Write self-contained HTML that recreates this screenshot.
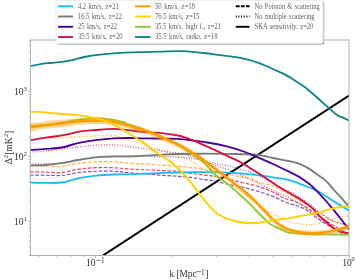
<!DOCTYPE html>
<html><head><meta charset="utf-8"><style>html,body{margin:0;padding:0;background:#fff;width:355px;height:280px;overflow:hidden}svg{display:block;will-change:transform;font-family:"Liberation Serif",serif}</style></head>
<body><svg width="355" height="280" viewBox="0 0 355 280"><rect width="355" height="280" fill="#fff"/><defs><clipPath id="ax"><rect x="30.4" y="40" width="318.6" height="215.5"/></clipPath></defs><g clip-path="url(#ax)"><line x1="103.1" y1="255.4" x2="349" y2="95.6" stroke="#000" stroke-width="1.9"/><path d="M30.00,165.90 C32.65,165.96 40.58,166.17 45.90,166.25 C51.22,166.33 56.55,166.91 61.90,166.40 C67.25,165.89 72.33,163.97 78.00,163.20 C83.67,162.43 89.95,162.03 95.90,161.80 C101.85,161.57 108.35,161.57 113.70,161.80 C119.05,162.03 122.63,162.82 128.00,163.20 C133.37,163.58 139.73,163.75 145.90,164.10 C152.07,164.45 159.65,164.95 165.00,165.30 C170.35,165.65 174.05,165.87 178.00,166.20 C181.95,166.53 185.13,166.93 188.70,167.30 C192.27,167.67 195.02,167.70 199.40,168.40 C203.78,169.10 209.33,170.32 215.00,171.50 C220.67,172.68 227.67,174.37 233.40,175.50 C239.13,176.63 245.13,177.22 249.40,178.30 C253.67,179.38 255.07,180.68 259.00,182.00 C262.93,183.32 268.67,184.58 273.00,186.25 C277.33,187.92 281.33,190.12 285.00,192.00 C288.67,193.88 290.83,195.08 295.00,197.50 C299.17,199.92 305.83,203.92 310.00,206.50 C314.17,209.08 316.00,210.52 320.00,213.00 C324.00,215.48 329.17,219.23 334.00,221.40 C338.83,223.57 346.50,225.23 349.00,226.00" fill="none" stroke="#ff9d00" stroke-width="1.2" stroke-linejoin="round" stroke-linecap="butt" stroke-dasharray="3.7,1.6" stroke-opacity="0.75"/><path d="M30.00,171.80 C32.65,171.85 40.58,171.95 45.90,172.10 C51.22,172.25 56.55,173.17 61.90,172.70 C67.25,172.23 72.33,170.13 78.00,169.30 C83.67,168.47 89.95,167.97 95.90,167.70 C101.85,167.43 108.35,167.50 113.70,167.70 C119.05,167.90 122.63,168.55 128.00,168.90 C133.37,169.25 139.95,169.50 145.90,169.80 C151.85,170.10 158.35,170.46 163.70,170.70 C169.05,170.94 173.62,170.83 178.00,171.25 C182.38,171.67 186.17,172.62 190.00,173.20 C193.83,173.77 197.18,174.22 201.00,174.70 C204.82,175.18 208.90,175.52 212.90,176.10 C216.90,176.68 220.48,177.20 225.00,178.20 C229.52,179.20 235.50,181.02 240.00,182.10 C244.50,183.18 248.15,183.70 252.00,184.70 C255.85,185.70 259.27,186.72 263.10,188.10 C266.93,189.48 271.52,191.32 275.00,193.00 C278.48,194.68 280.72,196.80 284.00,198.20 C287.28,199.60 291.13,199.97 294.70,201.40 C298.27,202.83 302.02,204.78 305.40,206.80 C308.78,208.82 311.23,210.97 315.00,213.50 C318.77,216.03 323.83,219.33 328.00,222.00 C332.17,224.67 336.50,227.17 340.00,229.50 C343.50,231.83 347.50,234.92 349.00,236.00" fill="none" stroke="#d4103c" stroke-width="1.2" stroke-linejoin="round" stroke-linecap="butt" stroke-dasharray="3.7,1.6" stroke-opacity="0.75"/><path d="M30.00,175.00 C32.65,175.03 40.58,175.13 45.90,175.20 C51.22,175.27 56.55,175.82 61.90,175.40 C67.25,174.98 72.33,173.39 78.00,172.70 C83.67,172.01 89.95,171.49 95.90,171.25 C101.85,171.01 108.35,171.01 113.70,171.25 C119.05,171.49 122.63,172.24 128.00,172.70 C133.37,173.16 139.95,173.55 145.90,174.00 C151.85,174.45 158.35,175.02 163.70,175.40 C169.05,175.78 173.28,175.93 178.00,176.30 C182.72,176.67 188.00,177.10 192.00,177.60 C196.00,178.10 198.52,178.78 202.00,179.30 C205.48,179.82 208.57,179.87 212.90,180.70 C217.23,181.53 223.48,183.32 228.00,184.30 C232.52,185.28 236.00,185.72 240.00,186.60 C244.00,187.48 248.15,188.53 252.00,189.60 C255.85,190.67 259.27,191.73 263.10,193.00 C266.93,194.27 271.17,195.62 275.00,197.20 C278.83,198.78 282.45,201.08 286.10,202.50 C289.75,203.92 293.68,204.53 296.90,205.70 C300.12,206.87 302.07,207.45 305.40,209.50 C308.73,211.55 313.13,215.42 316.90,218.00 C320.67,220.58 324.15,222.92 328.00,225.00 C331.85,227.08 336.50,229.17 340.00,230.50 C343.50,231.83 347.50,232.58 349.00,233.00" fill="none" stroke="#4b0096" stroke-width="1.2" stroke-linejoin="round" stroke-linecap="butt" stroke-dasharray="3.7,1.6" stroke-opacity="0.68"/><path d="M50.00,138.40 C54.67,138.10 70.35,137.00 78.00,136.60 C85.65,136.20 89.95,136.15 95.90,136.00 C101.85,135.85 109.68,135.53 113.70,135.70 C117.72,135.87 117.62,136.25 120.00,137.00 C122.38,137.75 125.17,139.33 128.00,140.20 C130.83,141.07 134.02,141.33 137.00,142.20 C139.98,143.07 142.90,144.35 145.90,145.40 C148.90,146.45 151.82,147.40 155.00,148.50 C158.18,149.60 161.17,150.75 165.00,152.00 C168.83,153.25 174.23,154.78 178.00,156.00 C181.77,157.22 185.28,158.40 187.60,159.30 C189.92,160.20 190.47,160.60 191.90,161.40 C193.33,162.20 194.68,163.00 196.20,164.10 C197.72,165.20 199.30,166.98 201.00,168.00 C202.70,169.02 203.23,168.37 206.40,170.20 C209.57,172.03 215.33,176.05 220.00,179.00 C224.67,181.95 230.92,185.80 234.40,187.90 C237.88,190.00 236.43,188.52 240.90,191.60 C245.37,194.68 256.57,203.03 261.20,206.40 C265.83,209.77 265.67,210.02 268.70,211.80 C271.73,213.58 276.18,215.47 279.40,217.10 C282.62,218.73 284.07,220.40 288.00,221.60 C291.93,222.80 298.35,223.85 303.00,224.30 C307.65,224.75 311.40,225.10 315.90,224.30 C320.40,223.50 325.48,220.80 330.00,219.50 C334.52,218.20 339.83,217.08 343.00,216.50 C346.17,215.92 348.00,216.08 349.00,216.00" fill="none" stroke="#ff9d00" stroke-width="1.3" stroke-linejoin="round" stroke-linecap="butt" stroke-dasharray="1,1.65" stroke-opacity="0.8"/><path d="M30.00,152.10 C32.65,151.92 37.90,151.85 45.90,151.00 C53.90,150.15 69.67,147.97 78.00,147.00 C86.33,146.03 89.95,145.57 95.90,145.20 C101.85,144.83 108.35,144.58 113.70,144.80 C119.05,145.02 122.63,145.82 128.00,146.50 C133.37,147.18 139.95,148.15 145.90,148.90 C151.85,149.65 158.35,150.23 163.70,151.00 C169.05,151.77 173.83,152.75 178.00,153.50 C182.17,154.25 185.03,154.50 188.70,155.50 C192.37,156.50 195.80,157.93 200.00,159.50 C204.20,161.07 209.08,163.18 213.90,164.90 C218.72,166.62 223.98,167.93 228.90,169.80 C233.82,171.67 239.27,174.25 243.40,176.10 C247.53,177.95 250.83,179.53 253.70,180.90 C256.57,182.27 257.22,182.60 260.60,184.30 C263.98,186.00 269.62,189.08 274.00,191.10 C278.38,193.12 282.57,194.25 286.90,196.40 C291.23,198.55 295.32,200.90 300.00,204.00 C304.68,207.10 310.00,211.17 315.00,215.00 C320.00,218.83 324.73,223.50 330.00,227.00 C335.27,230.50 343.83,234.50 346.60,236.00" fill="none" stroke="#d4103c" stroke-width="1.3" stroke-linejoin="round" stroke-linecap="butt" stroke-dasharray="1,1.65" stroke-opacity="0.7"/><path d="M30.00,163.90 C32.50,163.88 40.00,163.95 45.00,163.80 C50.00,163.65 54.50,163.67 60.00,163.00 C65.50,162.33 72.02,160.70 78.00,159.80 C83.98,158.90 89.95,158.08 95.90,157.60 C101.85,157.12 108.35,157.03 113.70,156.90 C119.05,156.77 122.63,156.83 128.00,156.80 C133.37,156.77 137.57,156.67 145.90,156.70 C154.23,156.73 170.87,156.75 178.00,157.00 C185.13,157.25 185.48,157.82 188.70,158.20 C191.92,158.58 193.98,158.63 197.30,159.30 C200.62,159.97 204.93,161.37 208.60,162.20 C212.27,163.03 215.92,163.68 219.30,164.30 C222.68,164.92 225.30,165.07 228.90,165.90 C232.50,166.73 237.05,168.17 240.90,169.30 C244.75,170.43 248.15,171.17 252.00,172.70 C255.85,174.23 259.97,176.42 264.00,178.50 C268.03,180.58 272.20,183.12 276.20,185.20 C280.20,187.28 284.25,189.12 288.00,191.00 C291.75,192.88 295.13,194.37 298.70,196.50 C302.27,198.63 305.80,201.05 309.40,203.80 C313.00,206.55 316.87,210.38 320.30,213.00 C323.73,215.62 326.72,217.83 330.00,219.50 C333.28,221.17 336.83,222.08 340.00,223.00 C343.17,223.92 347.50,224.67 349.00,225.00" fill="none" stroke="#4b0096" stroke-width="1.3" stroke-linejoin="round" stroke-linecap="butt" stroke-dasharray="1,1.65" stroke-opacity="0.6"/><path d="M30.00,182.50 C32.65,182.57 40.58,182.90 45.90,182.90 C51.22,182.90 56.55,183.25 61.90,182.50 C67.25,181.75 72.33,179.53 78.00,178.40 C83.67,177.27 89.95,176.35 95.90,175.70 C101.85,175.05 108.35,174.73 113.70,174.50 C119.05,174.27 122.63,174.45 128.00,174.30 C133.37,174.15 139.73,173.83 145.90,173.60 C152.07,173.37 158.48,173.10 165.00,172.90 C171.52,172.70 178.33,172.53 185.00,172.40 C191.67,172.27 197.83,172.05 205.00,172.10 C212.17,172.15 221.67,172.45 228.00,172.70 C234.33,172.95 238.00,173.18 243.00,173.60 C248.00,174.02 253.00,174.58 258.00,175.20 C263.00,175.82 268.00,176.53 273.00,177.30 C278.00,178.07 283.72,178.80 288.00,179.80 C292.28,180.80 295.13,182.02 298.70,183.30 C302.27,184.58 306.18,186.17 309.40,187.50 C312.62,188.83 314.07,189.08 318.00,191.30 C321.93,193.52 327.83,197.57 333.00,200.80 C338.17,204.03 346.33,209.05 349.00,210.70" fill="none" stroke="#1bbcf5" stroke-width="1.85" stroke-linejoin="round" stroke-linecap="butt" /><path d="M30.00,165.50 C32.65,165.42 40.58,165.38 45.90,165.00 C51.22,164.62 56.55,164.03 61.90,163.20 C67.25,162.37 72.33,160.98 78.00,160.00 C83.67,159.02 89.95,157.90 95.90,157.30 C101.85,156.70 108.35,156.55 113.70,156.40 C119.05,156.25 122.63,156.52 128.00,156.40 C133.37,156.28 139.95,156.00 145.90,155.70 C151.85,155.40 158.35,154.88 163.70,154.60 C169.05,154.32 171.95,154.15 178.00,154.00 C184.05,153.85 191.67,153.72 200.00,153.70 C208.33,153.68 218.33,153.72 228.00,153.90 C237.67,154.08 250.50,154.12 258.00,154.80 C265.50,155.48 268.00,157.00 273.00,158.00 C278.00,159.00 283.72,159.87 288.00,160.80 C292.28,161.73 295.13,162.25 298.70,163.60 C302.27,164.95 306.18,167.00 309.40,168.90 C312.62,170.80 315.23,173.00 318.00,175.00 C320.77,177.00 323.33,178.40 326.00,180.90 C328.67,183.40 331.52,187.25 334.00,190.00 C336.48,192.75 338.40,194.57 340.90,197.40 C343.40,200.23 347.65,205.40 349.00,207.00" fill="none" stroke="#7a7a7a" stroke-width="1.85" stroke-linejoin="round" stroke-linecap="butt" /><path d="M30.00,150.00 C32.65,149.82 40.58,149.32 45.90,148.90 C51.22,148.48 56.55,148.47 61.90,147.50 C67.25,146.53 72.33,144.32 78.00,143.10 C83.67,141.88 89.95,140.98 95.90,140.20 C101.85,139.42 108.35,138.77 113.70,138.40 C119.05,138.03 122.63,138.00 128.00,138.00 C133.37,138.00 137.57,138.25 145.90,138.40 C154.23,138.55 169.82,138.50 178.00,138.90 C186.18,139.30 190.50,140.27 195.00,140.80 C199.50,141.33 200.00,141.25 205.00,142.10 C210.00,142.95 218.33,144.25 225.00,145.90 C231.67,147.55 239.50,150.08 245.00,152.00 C250.50,153.92 253.33,155.40 258.00,157.40 C262.67,159.40 268.00,161.70 273.00,164.00 C278.00,166.30 283.72,169.10 288.00,171.20 C292.28,173.30 295.13,174.47 298.70,176.60 C302.27,178.73 306.37,181.57 309.40,184.00 C312.43,186.43 314.13,188.37 316.90,191.20 C319.67,194.03 323.53,198.27 326.00,201.00 C328.47,203.73 329.22,204.60 331.70,207.60 C334.18,210.60 338.02,215.35 340.90,219.00 C343.78,222.65 347.65,227.75 349.00,229.50" fill="none" stroke="#4b0096" stroke-width="1.85" stroke-linejoin="round" stroke-linecap="butt" /><path d="M30.00,140.20 C32.65,139.78 40.28,138.53 45.90,137.70 C51.52,136.87 58.35,136.18 63.70,135.20 C69.05,134.22 72.63,132.67 78.00,131.80 C83.37,130.93 89.95,130.48 95.90,130.00 C101.85,129.52 108.35,128.87 113.70,128.90 C119.05,128.93 122.63,129.67 128.00,130.20 C133.37,130.73 139.95,131.58 145.90,132.10 C151.85,132.62 158.35,132.73 163.70,133.30 C169.05,133.87 174.12,134.68 178.00,135.50 C181.88,136.32 184.17,137.25 187.00,138.20 C189.83,139.15 192.00,139.97 195.00,141.20 C198.00,142.43 200.95,143.78 205.00,145.60 C209.05,147.42 215.47,150.30 219.30,152.10 C223.13,153.90 224.77,154.88 228.00,156.40 C231.23,157.93 235.13,159.37 238.70,161.25 C242.27,163.13 246.18,165.74 249.40,167.70 C252.62,169.66 254.78,170.95 258.00,173.00 C261.22,175.05 265.13,177.62 268.70,180.00 C272.27,182.38 276.18,185.25 279.40,187.30 C282.62,189.35 284.78,190.45 288.00,192.30 C291.22,194.15 295.13,196.15 298.70,198.40 C302.27,200.65 306.90,203.95 309.40,205.80 C311.90,207.65 312.12,207.92 313.70,209.50 C315.28,211.08 316.60,213.05 318.90,215.30 C321.20,217.55 324.80,220.67 327.50,223.00 C330.20,225.33 332.78,227.80 335.10,229.30 C337.42,230.80 339.08,231.30 341.40,232.00 C343.72,232.70 347.73,233.25 349.00,233.50" fill="none" stroke="#d4103c" stroke-width="1.85" stroke-linejoin="round" stroke-linecap="butt" /><path d="M30.00,125.90 C31.55,125.80 35.88,125.60 39.30,125.30 C42.72,125.00 45.72,124.72 50.50,124.10 C55.28,123.48 63.42,122.32 68.00,121.60 C72.58,120.88 73.35,120.37 78.00,119.80 C82.65,119.23 91.23,118.33 95.90,118.20 C100.57,118.07 103.03,118.70 106.00,119.00 C108.97,119.30 110.70,119.42 113.70,120.00 C116.70,120.58 121.62,121.83 124.00,122.50 C126.38,123.17 124.35,122.68 128.00,124.00 C131.65,125.32 139.95,128.15 145.90,130.40 C151.85,132.65 158.35,135.07 163.70,137.50 C169.05,139.93 174.13,142.83 178.00,145.00 C181.87,147.17 184.23,148.75 186.90,150.50 C189.57,152.25 191.82,154.00 194.00,155.50 C196.18,157.00 198.17,158.15 200.00,159.50 C201.83,160.85 203.22,161.90 205.00,163.60 C206.78,165.30 208.50,167.43 210.70,169.70 C212.90,171.97 215.32,174.80 218.20,177.20 C221.08,179.60 224.58,181.34 228.00,184.10 C231.42,186.86 235.13,190.53 238.70,193.75 C242.27,196.97 246.37,200.44 249.40,203.40 C252.43,206.36 254.40,208.94 256.90,211.50 C259.40,214.06 262.07,216.57 264.40,218.75 C266.73,220.93 268.40,222.96 270.90,224.60 C273.40,226.24 276.55,227.32 279.40,228.60 C282.25,229.88 283.53,231.38 288.00,232.30 C292.47,233.22 301.20,233.75 306.20,234.10 C311.20,234.45 310.87,234.32 318.00,234.40 C325.13,234.48 343.83,234.57 349.00,234.60" fill="none" stroke="#8fc832" stroke-width="1.85" stroke-linejoin="round" stroke-linecap="butt" /><path d="M30.00,127.20 C31.55,127.00 35.88,126.38 39.30,126.00 C42.72,125.62 45.72,125.47 50.50,124.90 C55.28,124.33 63.42,123.18 68.00,122.60 C72.58,122.02 73.35,121.75 78.00,121.40 C82.65,121.05 89.95,120.43 95.90,120.50 C101.85,120.57 109.68,121.30 113.70,121.80 C117.72,122.30 117.62,122.88 120.00,123.50 C122.38,124.12 125.18,124.67 128.00,125.50 C130.82,126.33 133.23,127.38 136.90,128.50 C140.57,129.62 145.53,130.55 150.00,132.20 C154.47,133.85 159.03,136.35 163.70,138.40 C168.37,140.45 174.55,142.90 178.00,144.50 C181.45,146.10 181.72,146.43 184.40,148.00 C187.08,149.57 191.50,152.35 194.10,153.90 C196.70,155.45 197.23,155.40 200.00,157.30 C202.77,159.20 207.13,162.62 210.70,165.30 C214.27,167.98 218.52,171.20 221.40,173.40 C224.28,175.60 225.12,176.27 228.00,178.50 C230.88,180.73 235.13,183.98 238.70,186.80 C242.27,189.62 246.18,192.53 249.40,195.40 C252.62,198.27 255.13,201.08 258.00,204.00 C260.87,206.92 264.10,210.32 266.60,212.90 C269.10,215.48 270.87,217.55 273.00,219.50 C275.13,221.45 276.90,222.95 279.40,224.60 C281.90,226.25 284.07,228.07 288.00,229.40 C291.93,230.73 298.00,232.00 303.00,232.60 C308.00,233.20 313.60,233.17 318.00,233.00 C322.40,232.83 325.58,232.30 329.40,231.60 C333.22,230.90 337.63,229.60 340.90,228.80 C344.17,228.00 347.65,227.13 349.00,226.80" fill="none" stroke="#ff9d00" stroke-width="2.3" stroke-linejoin="round" stroke-linecap="butt" /><path d="M30.00,122.60 C31.55,122.57 36.80,122.58 39.30,122.40 C41.80,122.22 43.13,121.80 45.00,121.50 C46.87,121.20 46.67,120.97 50.50,120.60 C54.33,120.23 63.42,119.68 68.00,119.30 C72.58,118.92 73.35,118.58 78.00,118.30 C82.65,118.02 89.95,117.50 95.90,117.60 C101.85,117.70 108.35,118.00 113.70,118.90 C119.05,119.80 122.63,121.36 128.00,123.00 C133.37,124.64 139.95,126.60 145.90,128.75 C151.85,130.90 158.35,133.69 163.70,135.90 C169.05,138.11 172.63,139.20 178.00,142.00 C183.37,144.80 189.95,148.70 195.90,152.70 C201.85,156.70 208.35,162.05 213.70,166.00 C219.05,169.95 222.63,172.27 228.00,176.40 C233.37,180.53 239.95,185.58 245.90,190.80 C251.85,196.03 258.35,202.63 263.70,207.75 C269.05,212.87 273.28,217.99 278.00,221.50 C282.72,225.01 287.30,227.28 292.00,228.80 C296.70,230.32 301.48,230.30 306.20,230.60 C310.92,230.90 315.50,230.95 320.30,230.60 C325.10,230.25 330.22,229.55 335.00,228.50 C339.78,227.45 346.67,225.00 349.00,224.30 L349.00,229.30 C346.67,230.02 339.78,232.55 335.00,233.60 C330.22,234.65 325.10,235.27 320.30,235.60 C315.50,235.93 310.92,235.95 306.20,235.60 C301.48,235.25 296.70,234.95 292.00,233.50 C287.30,232.05 282.72,230.36 278.00,226.90 C273.28,223.44 269.05,217.93 263.70,212.75 C258.35,207.57 251.85,201.09 245.90,195.80 C239.95,190.51 233.37,185.13 228.00,181.00 C222.63,176.87 219.05,174.80 213.70,171.00 C208.35,167.20 201.85,162.12 195.90,158.20 C189.95,154.28 183.37,150.30 178.00,147.50 C172.63,144.70 169.05,143.61 163.70,141.40 C158.35,139.19 151.85,136.40 145.90,134.25 C139.95,132.10 133.37,130.04 128.00,128.50 C122.63,126.96 119.05,125.75 113.70,125.00 C108.35,124.25 101.85,124.00 95.90,124.00 C89.95,124.00 82.65,124.57 78.00,125.00 C73.35,125.43 72.58,126.05 68.00,126.60 C63.42,127.15 55.28,127.83 50.50,128.30 C45.72,128.77 42.72,128.65 39.30,129.40 C35.88,130.15 31.55,132.23 30.00,132.80 Z" fill="#ff9d00" fill-opacity="0.42" stroke="none"/><path d="M30.00,111.90 C31.55,111.90 35.88,111.72 39.30,111.90 C42.72,112.08 46.43,112.65 50.50,113.00 C54.57,113.35 59.12,113.65 63.70,114.00 C68.28,114.35 72.78,114.47 78.00,115.10 C83.22,115.73 90.75,116.92 95.00,117.80 C99.25,118.68 100.67,119.40 103.50,120.40 C106.33,121.40 109.18,122.50 112.00,123.80 C114.82,125.10 117.65,126.67 120.40,128.20 C123.15,129.73 125.75,131.28 128.50,133.00 C131.25,134.72 134.08,136.67 136.90,138.50 C139.72,140.33 143.02,142.27 145.40,144.00 C147.78,145.73 149.10,147.32 151.20,148.90 C153.30,150.48 155.70,151.98 158.00,153.50 C160.30,155.02 162.67,156.42 165.00,158.00 C167.33,159.58 170.00,161.42 172.00,163.00 C174.00,164.58 175.33,165.92 177.00,167.50 C178.67,169.08 180.33,170.75 182.00,172.50 C183.67,174.25 185.33,176.08 187.00,178.00 C188.67,179.92 190.04,181.50 192.00,184.00 C193.96,186.50 196.58,190.13 198.75,193.00 C200.92,195.87 202.92,198.68 205.00,201.20 C207.08,203.72 209.38,206.12 211.25,208.10 C213.12,210.08 213.96,211.48 216.25,213.10 C218.54,214.72 221.26,216.32 225.00,217.80 C228.74,219.28 234.63,221.13 238.70,222.00 C242.77,222.87 246.18,222.87 249.40,223.00 C252.62,223.13 254.07,223.23 258.00,222.80 C261.93,222.37 268.00,221.15 273.00,220.40 C278.00,219.65 283.00,219.08 288.00,218.30 C293.00,217.52 298.00,216.65 303.00,215.70 C308.00,214.75 313.60,213.67 318.00,212.60 C322.40,211.53 325.58,210.23 329.40,209.30 C333.22,208.37 337.63,207.50 340.90,207.00 C344.17,206.50 347.65,206.42 349.00,206.30" fill="none" stroke="#ffd000" stroke-width="1.85" stroke-linejoin="round" stroke-linecap="butt" /><path d="M30.00,66.40 C31.55,66.05 35.97,64.87 39.30,64.30 C42.63,63.73 46.25,63.40 50.00,63.00 C53.75,62.60 57.97,62.43 61.80,61.90 C65.63,61.37 69.25,60.62 73.00,59.80 C76.75,58.98 79.80,57.87 84.30,57.00 C88.80,56.13 94.10,55.30 100.00,54.60 C105.90,53.90 113.13,53.20 119.70,52.80 C126.27,52.40 132.68,52.40 139.40,52.20 C146.12,52.00 152.65,51.78 160.00,51.60 C167.35,51.42 176.20,50.87 183.50,51.10 C190.80,51.33 197.72,52.32 203.80,53.00 C209.88,53.68 215.63,54.65 220.00,55.20 C224.37,55.75 226.83,55.90 230.00,56.30 C233.17,56.70 236.00,57.05 239.00,57.60 C242.00,58.15 245.00,58.82 248.00,59.60 C251.00,60.38 253.57,61.07 257.00,62.30 C260.43,63.53 265.25,65.57 268.60,67.00 C271.95,68.43 274.25,69.58 277.10,70.90 C279.95,72.22 282.48,73.13 285.70,74.90 C288.92,76.67 293.53,79.68 296.40,81.50 C299.27,83.32 300.75,84.25 302.90,85.80 C305.05,87.35 306.03,88.03 309.30,90.80 C312.57,93.57 318.00,98.45 322.50,102.40 C327.00,106.35 332.97,112.00 336.30,114.50 C339.63,117.00 340.38,116.42 342.50,117.40 C344.62,118.38 347.92,119.90 349.00,120.40" fill="none" stroke="#0e8585" stroke-width="1.85" stroke-linejoin="round" stroke-linecap="butt" /></g><rect x="30.4" y="40" width="318.6" height="215.5" fill="none" stroke="#b0b0b0" stroke-width="1"/><line x1="39.26" y1="255.5" x2="39.26" y2="257.0" stroke="#b0b0b0" stroke-width="0.8"/><line x1="56.23" y1="255.5" x2="56.23" y2="257.0" stroke="#b0b0b0" stroke-width="0.8"/><line x1="70.93" y1="255.5" x2="70.93" y2="257.0" stroke="#b0b0b0" stroke-width="0.8"/><line x1="83.90" y1="255.5" x2="83.90" y2="257.0" stroke="#b0b0b0" stroke-width="0.8"/><line x1="95.50" y1="255.5" x2="95.50" y2="258.1" stroke="#b0b0b0" stroke-width="0.8"/><line x1="171.81" y1="255.5" x2="171.81" y2="257.0" stroke="#b0b0b0" stroke-width="0.8"/><line x1="216.45" y1="255.5" x2="216.45" y2="257.0" stroke="#b0b0b0" stroke-width="0.8"/><line x1="248.12" y1="255.5" x2="248.12" y2="257.0" stroke="#b0b0b0" stroke-width="0.8"/><line x1="272.69" y1="255.5" x2="272.69" y2="257.0" stroke="#b0b0b0" stroke-width="0.8"/><line x1="292.76" y1="255.5" x2="292.76" y2="257.0" stroke="#b0b0b0" stroke-width="0.8"/><line x1="309.73" y1="255.5" x2="309.73" y2="257.0" stroke="#b0b0b0" stroke-width="0.8"/><line x1="324.43" y1="255.5" x2="324.43" y2="257.0" stroke="#b0b0b0" stroke-width="0.8"/><line x1="337.40" y1="255.5" x2="337.40" y2="257.0" stroke="#b0b0b0" stroke-width="0.8"/><line x1="349.00" y1="255.5" x2="349.00" y2="258.1" stroke="#b0b0b0" stroke-width="0.8"/><line x1="28.9" y1="255.29" x2="30.4" y2="255.29" stroke="#b0b0b0" stroke-width="0.8"/><line x1="28.9" y1="247.17" x2="30.4" y2="247.17" stroke="#b0b0b0" stroke-width="0.8"/><line x1="28.9" y1="240.87" x2="30.4" y2="240.87" stroke="#b0b0b0" stroke-width="0.8"/><line x1="28.9" y1="235.72" x2="30.4" y2="235.72" stroke="#b0b0b0" stroke-width="0.8"/><line x1="28.9" y1="231.37" x2="30.4" y2="231.37" stroke="#b0b0b0" stroke-width="0.8"/><line x1="28.9" y1="227.60" x2="30.4" y2="227.60" stroke="#b0b0b0" stroke-width="0.8"/><line x1="28.9" y1="224.27" x2="30.4" y2="224.27" stroke="#b0b0b0" stroke-width="0.8"/><line x1="27.799999999999997" y1="221.30" x2="30.4" y2="221.30" stroke="#b0b0b0" stroke-width="0.8"/><line x1="28.9" y1="201.73" x2="30.4" y2="201.73" stroke="#b0b0b0" stroke-width="0.8"/><line x1="28.9" y1="190.29" x2="30.4" y2="190.29" stroke="#b0b0b0" stroke-width="0.8"/><line x1="28.9" y1="182.17" x2="30.4" y2="182.17" stroke="#b0b0b0" stroke-width="0.8"/><line x1="28.9" y1="175.87" x2="30.4" y2="175.87" stroke="#b0b0b0" stroke-width="0.8"/><line x1="28.9" y1="170.72" x2="30.4" y2="170.72" stroke="#b0b0b0" stroke-width="0.8"/><line x1="28.9" y1="166.37" x2="30.4" y2="166.37" stroke="#b0b0b0" stroke-width="0.8"/><line x1="28.9" y1="162.60" x2="30.4" y2="162.60" stroke="#b0b0b0" stroke-width="0.8"/><line x1="28.9" y1="159.27" x2="30.4" y2="159.27" stroke="#b0b0b0" stroke-width="0.8"/><line x1="27.799999999999997" y1="156.30" x2="30.4" y2="156.30" stroke="#b0b0b0" stroke-width="0.8"/><line x1="28.9" y1="136.73" x2="30.4" y2="136.73" stroke="#b0b0b0" stroke-width="0.8"/><line x1="28.9" y1="125.29" x2="30.4" y2="125.29" stroke="#b0b0b0" stroke-width="0.8"/><line x1="28.9" y1="117.17" x2="30.4" y2="117.17" stroke="#b0b0b0" stroke-width="0.8"/><line x1="28.9" y1="110.87" x2="30.4" y2="110.87" stroke="#b0b0b0" stroke-width="0.8"/><line x1="28.9" y1="105.72" x2="30.4" y2="105.72" stroke="#b0b0b0" stroke-width="0.8"/><line x1="28.9" y1="101.37" x2="30.4" y2="101.37" stroke="#b0b0b0" stroke-width="0.8"/><line x1="28.9" y1="97.60" x2="30.4" y2="97.60" stroke="#b0b0b0" stroke-width="0.8"/><line x1="28.9" y1="94.27" x2="30.4" y2="94.27" stroke="#b0b0b0" stroke-width="0.8"/><line x1="27.799999999999997" y1="91.30" x2="30.4" y2="91.30" stroke="#b0b0b0" stroke-width="0.8"/><line x1="28.9" y1="71.73" x2="30.4" y2="71.73" stroke="#b0b0b0" stroke-width="0.8"/><line x1="28.9" y1="60.29" x2="30.4" y2="60.29" stroke="#b0b0b0" stroke-width="0.8"/><line x1="28.9" y1="52.17" x2="30.4" y2="52.17" stroke="#b0b0b0" stroke-width="0.8"/><line x1="28.9" y1="45.87" x2="30.4" y2="45.87" stroke="#b0b0b0" stroke-width="0.8"/><line x1="28.9" y1="40.72" x2="30.4" y2="40.72" stroke="#b0b0b0" stroke-width="0.8"/><text x="14.0" y="224.60" font-family="Liberation Serif, serif" font-size="9.6" fill="#333">10</text><text x="23.5" y="220.70" font-family="Liberation Serif, serif" font-size="6.8" fill="#333">1</text><text x="14.0" y="159.60" font-family="Liberation Serif, serif" font-size="9.6" fill="#333">10</text><text x="23.5" y="155.70" font-family="Liberation Serif, serif" font-size="6.8" fill="#333">2</text><text x="14.0" y="94.60" font-family="Liberation Serif, serif" font-size="9.6" fill="#333">10</text><text x="23.5" y="90.70" font-family="Liberation Serif, serif" font-size="6.8" fill="#333">3</text><text x="85.9" y="265.7" font-family="Liberation Serif, serif" font-size="9.6" fill="#333">10</text><line x1="96.2" y1="260.4" x2="100.9" y2="260.4" stroke="#333" stroke-width="0.6"/><text x="101.0" y="262.8" font-family="Liberation Serif, serif" font-size="7.2" fill="#333">1</text><text x="342.3" y="265.7" font-family="Liberation Serif, serif" font-size="9.6" fill="#333">10</text><text x="351.6" y="260.8" font-family="Liberation Serif, serif" font-size="6.4" fill="#333">0</text><text x="169.5" y="277" font-family="Liberation Serif, serif" font-size="9.3" fill="#333">k [Mpc</text><line x1="196" y1="271.6" x2="201" y2="271.6" stroke="#333" stroke-width="0.6"/><text x="201.0" y="275.0" font-family="Liberation Serif, serif" font-size="7.4" fill="#333">1</text><text x="205.2" y="277" font-family="Liberation Serif, serif" font-size="9.6" fill="#333">]</text><g transform="translate(11.6,164.3) rotate(-90)"><text x="0" y="0" font-family="Liberation Serif, serif" font-size="9.6" fill="#333">Δ<tspan font-size="6.6" dy="-3.8">2</tspan><tspan dy="3.8">[mK</tspan><tspan font-size="6.6" dy="-3.8">2</tspan><tspan dy="3.8">]</tspan></text></g><rect x="57.3" y="1.6" width="267.0" height="43.1" rx="1.8" ry="1.8" fill="#b0b0b0"/><rect x="56.0" y="0.3" width="267.0" height="43.1" rx="1.8" ry="1.8" fill="#fff" stroke="#e6e6e6" stroke-width="0.8"/><line x1="58" y1="6.3" x2="73" y2="6.3" stroke="#1bbcf5" stroke-width="1.9" /><text x="77.9" y="8.5" font-family="Liberation Serif, serif" font-size="7.6" word-spacing="0.9" fill="#606060" textLength="40.9" lengthAdjust="spacingAndGlyphs">4.2 km/s, z=21</text><line x1="58" y1="16.5" x2="73" y2="16.5" stroke="#7a7a7a" stroke-width="1.9" /><text x="77.9" y="18.8" font-family="Liberation Serif, serif" font-size="7.6" word-spacing="0.9" fill="#606060" textLength="44.0" lengthAdjust="spacingAndGlyphs">16.5 km/s, z=22</text><line x1="58" y1="26.8" x2="73" y2="26.8" stroke="#4b0096" stroke-width="1.9" /><text x="77.9" y="29.1" font-family="Liberation Serif, serif" font-size="7.6" word-spacing="0.9" fill="#606060" textLength="39.1" lengthAdjust="spacingAndGlyphs">25 km/s, z=22</text><line x1="58" y1="37.0" x2="73" y2="37.0" stroke="#d4103c" stroke-width="1.9" /><text x="77.9" y="39.3" font-family="Liberation Serif, serif" font-size="7.6" word-spacing="0.9" fill="#606060" textLength="44.7" lengthAdjust="spacingAndGlyphs">35.5 km/s, z=20</text><line x1="135" y1="6.3" x2="150.6" y2="6.3" stroke="#ff9d00" stroke-width="1.9" /><text x="154.9" y="8.5" font-family="Liberation Serif, serif" font-size="7.6" word-spacing="0.9" fill="#606060" textLength="40.1" lengthAdjust="spacingAndGlyphs">50 km/s, z=18</text><line x1="135" y1="16.5" x2="150.6" y2="16.5" stroke="#ffd000" stroke-width="1.9" /><text x="154.9" y="18.8" font-family="Liberation Serif, serif" font-size="7.6" word-spacing="0.9" fill="#606060" textLength="44.4" lengthAdjust="spacingAndGlyphs">76.5 km/s, z=15</text><line x1="135" y1="26.8" x2="150.6" y2="26.8" stroke="#8fc832" stroke-width="1.9" /><text x="154.9" y="29.1" font-family="Liberation Serif, serif" font-size="7.6" word-spacing="0.9" fill="#606060" textLength="66.1" lengthAdjust="spacingAndGlyphs">35.5 km/s, high f<tspan font-size="4.8" dy="1.2">*</tspan><tspan dy="-1.2">, z=21</tspan></text><line x1="135" y1="37.0" x2="150.6" y2="37.0" stroke="#0e8585" stroke-width="1.9" /><text x="154.9" y="39.3" font-family="Liberation Serif, serif" font-size="7.6" word-spacing="0.9" fill="#606060" textLength="62.6" lengthAdjust="spacingAndGlyphs">35.5 km/s, radio, z=18</text><line x1="235.8" y1="6.3" x2="249.5" y2="6.3" stroke="#000" stroke-width="1.9" stroke-dasharray="3.8,1.3"/><text x="254.6" y="8.5" font-family="Liberation Serif, serif" font-size="7.6" word-spacing="0.9" fill="#606060" textLength="65.2" lengthAdjust="spacingAndGlyphs">No Poisson &amp; scattering</text><line x1="235.8" y1="16.5" x2="249.5" y2="16.5" stroke="#000" stroke-width="1.9" stroke-dasharray="1,1.65"/><text x="254.6" y="18.8" font-family="Liberation Serif, serif" font-size="7.6" word-spacing="0.9" fill="#606060" textLength="59.9" lengthAdjust="spacingAndGlyphs">No multiple scattering</text><line x1="235.8" y1="26.8" x2="249.5" y2="26.8" stroke="#000" stroke-width="1.9" /><text x="254.6" y="29.1" font-family="Liberation Serif, serif" font-size="7.6" word-spacing="0.9" fill="#606060" textLength="58.8" lengthAdjust="spacingAndGlyphs">SKA sensitivity, z=20</text></svg></body></html>
